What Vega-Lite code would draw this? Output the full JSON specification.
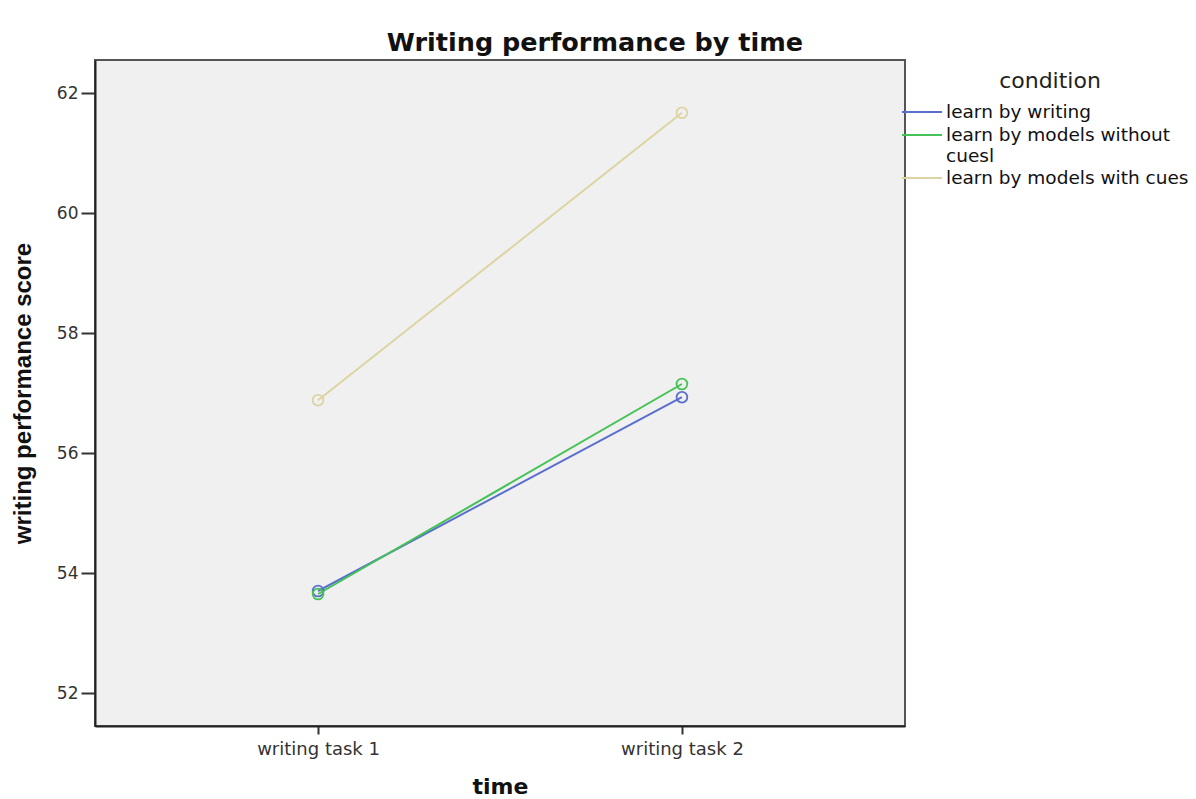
{
  "$schema": "https://vega.github.io/schema/vega-lite/v6.json",
  "autosize": "none",
  "padding": {"left": 95, "top": 60, "right": 291, "bottom": 73},
  "width": 810,
  "height": 666,
  "background": "white",
  "title": {
    "text": "Writing performance by time",
    "font": "DejaVu Sans",
    "fontSize": 25.5,
    "fontWeight": "bold",
    "color": "#111",
    "anchor": "middle",
    "dx": 95,
    "offset": 4
  },
  "config": {
    "view": {"fill": "#f0f0f0", "stroke": "#555", "strokeWidth": 2},
    "font": "DejaVu Sans"
  },
  "data": {
    "values": [
      {"time": "writing task 1", "condition": "learn by writing", "score": 53.7},
      {"time": "writing task 2", "condition": "learn by writing", "score": 56.93},
      {"time": "writing task 1", "condition": "learn by models without cuesl", "score": 53.65},
      {"time": "writing task 2", "condition": "learn by models without cuesl", "score": 57.15},
      {"time": "writing task 1", "condition": "learn by models with cues", "score": 56.88},
      {"time": "writing task 2", "condition": "learn by models with cues", "score": 61.67}
    ]
  },
  "encoding": {
    "x": {
      "field": "time",
      "type": "ordinal",
      "scale": {"type": "point", "padding": 0.613},
      "axis": {
        "title": "time",
        "titleFont": "DejaVu Sans",
        "titleFontSize": 22,
        "titleFontWeight": "bold",
        "titleColor": "#111",
        "titlePadding": 18,
        "labelAngle": 0,
        "labelFont": "DejaVu Sans",
        "labelFontSize": 18,
        "labelColor": "#333",
        "labelPadding": 6,
        "tickColor": "#333",
        "tickSize": 8,
        "tickWidth": 2,
        "domainColor": "#222",
        "domainWidth": 2,
        "grid": false
      }
    },
    "y": {
      "field": "score",
      "type": "quantitative",
      "scale": {"domain": [51.45, 62.55], "nice": false, "zero": false},
      "axis": {
        "title": "writing performance score",
        "titleFont": "Liberation Sans",
        "titleFontSize": 24,
        "titleFontWeight": "bold",
        "titleColor": "#111",
        "titlePadding": 21,
        "values": [52, 54, 56, 58, 60, 62],
        "labelFont": "DejaVu Sans",
        "labelFontSize": 17,
        "labelColor": "#333",
        "labelPadding": 3,
        "tickColor": "#333",
        "tickSize": 14,
        "tickWidth": 2,
        "domainColor": "#222",
        "domainWidth": 2,
        "grid": false
      }
    },
    "color": {
      "field": "condition",
      "type": "nominal",
      "sort": ["learn by writing", "learn by models without cuesl", "learn by models with cues"],
      "scale": {
        "domain": ["learn by writing", "learn by models without cuesl", "learn by models with cues"],
        "range": ["#5a6fcc", "#45c255", "#dcd4a2"]
      },
      "legend": {
        "title": "condition",
        "orient": "none",
        "legendX": 816,
        "legendY": 11,
        "titleFont": "DejaVu Sans",
        "titleFontSize": 22,
        "titleFontWeight": "normal",
        "titleColor": "#222",
        "titleAnchor": "middle",
        "titlePadding": 8,
        "labelFont": "DejaVu Sans",
        "labelFontSize": 18.5,
        "labelColor": "#111",
        "labelOffset": 13,
        "labelLimit": 400,
        "labelExpr": "datum.label == 'learn by models without cuesl' ? ['learn by models without', 'cuesl'] : datum.label",
        "symbolType": "M-2,0H2",
        "symbolSize": 400,
        "symbolStrokeWidth": 2,
        "rowPadding": 2
      }
    }
  },
  "layer": [
    {"mark": {"type": "line", "strokeWidth": 2}},
    {"mark": {"type": "point", "filled": false, "size": 115, "strokeWidth": 1.8, "opacity": 1}}
  ]
}
